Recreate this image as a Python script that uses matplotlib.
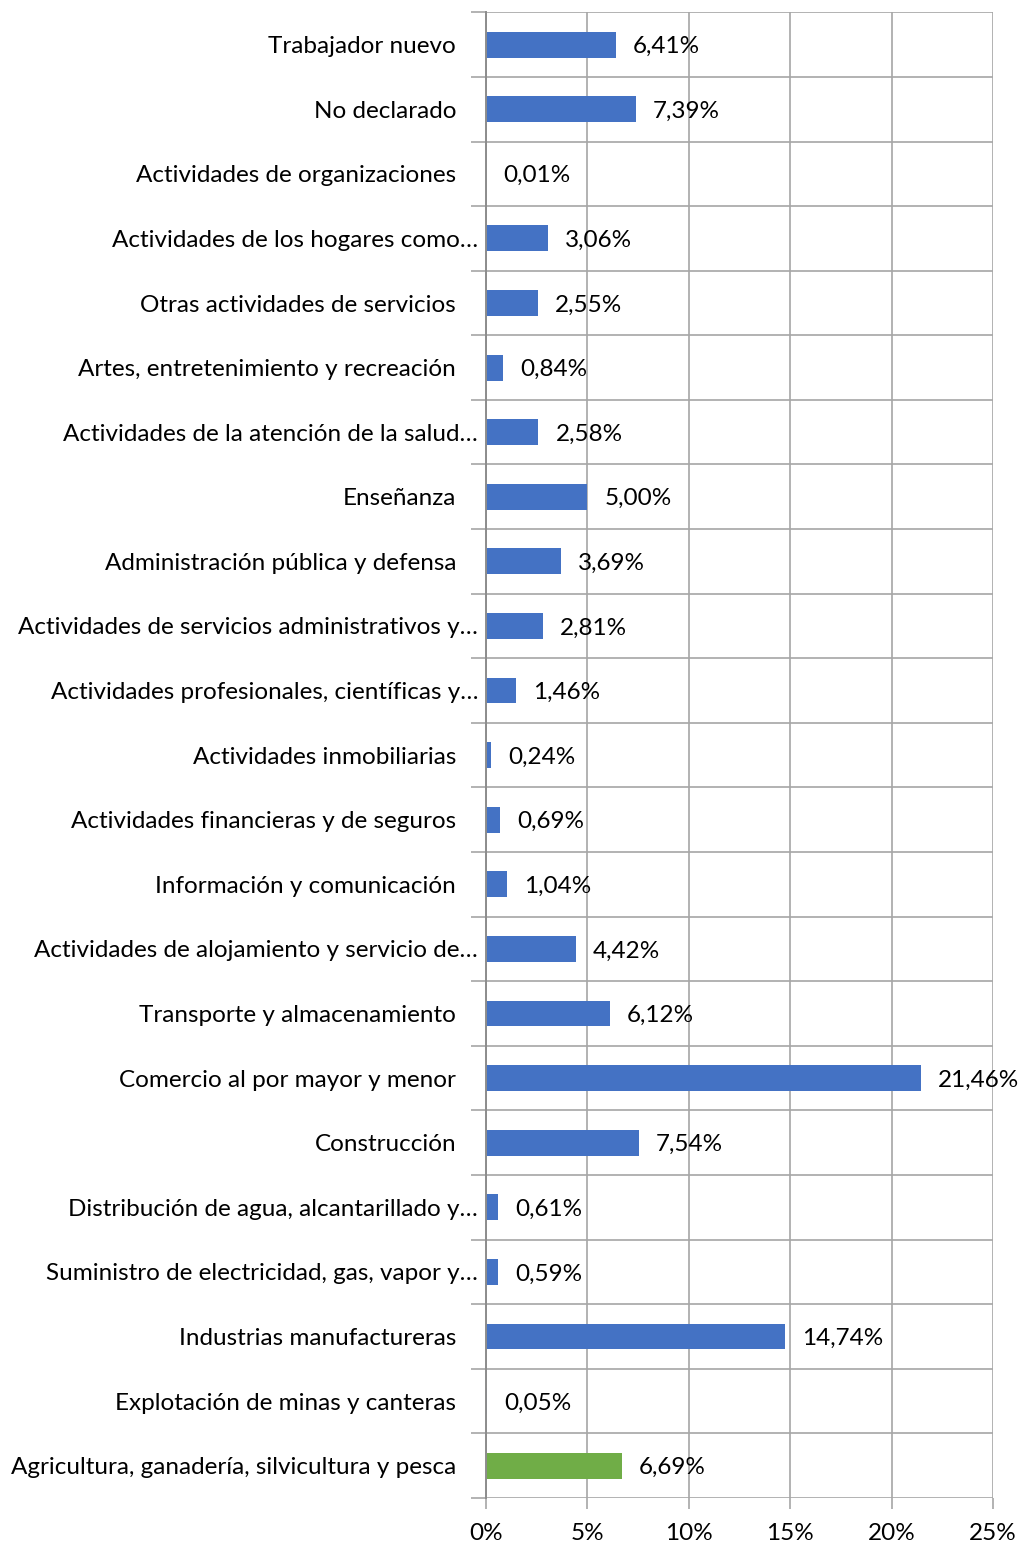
import matplotlib.pyplot as plt
from matplotlib.transforms import blended_transform_factory, offset_copy

plt.rcParams["font.family"] = ["Lato", "DejaVu Sans"]

# data (top to bottom, as shown)
categories = [
    "Trabajador nuevo",
    "No declarado",
    "Actividades de organizaciones",
    "Actividades de los hogares como…",
    "Otras actividades de servicios",
    "Artes, entretenimiento y recreación",
    "Actividades de la atención de la salud…",
    "Enseñanza",
    "Administración pública y defensa",
    "Actividades de servicios administrativos y…",
    "Actividades profesionales, científicas y…",
    "Actividades inmobiliarias",
    "Actividades financieras y de seguros",
    "Información y comunicación",
    "Actividades de alojamiento y servicio de…",
    "Transporte y almacenamiento",
    "Comercio al por mayor y menor",
    "Construcción",
    "Distribución de agua, alcantarillado y…",
    "Suministro de electricidad, gas, vapor y…",
    "Industrias manufactureras",
    "Explotación de minas y canteras",
    "Agricultura, ganadería, silvicultura y pesca",
]
shares = [6.41, 7.39, 0.01, 3.06, 2.55, 0.84, 2.58, 5.00, 3.69, 2.81, 1.46,
          0.24, 0.69, 1.04, 4.42, 6.12, 21.46, 7.54, 0.61, 0.59, 14.74, 0.05, 6.69]
highlight = "Agricultura, ganadería, silvicultura y pesca"
x_ticks = [0, 5, 10, 15, 20, 25]

BLUE = "#4472C4"
GREEN = "#70AD47"
GRID = "#A6A6A6"
FS = 17.5

fig = plt.figure(figsize=(10.19, 15.43), dpi=100)
ax = fig.add_axes([0.477, 0.0292, 0.4975, 0.9628])

n = len(categories)
ypos = list(range(n - 1, -1, -1))
colors = [GREEN if c == highlight else BLUE for c in categories]
ax.barh(ypos, shares, height=0.4, color=colors, zorder=3)

ax.set_xlim(0, 25)
ax.set_ylim(-0.5, n - 0.5)
ax.set_xticks(x_ticks)
ax.set_xticklabels([f"{t}%" for t in x_ticks], fontsize=FS)
ax.set_yticks([i - 0.5 for i in range(n + 1)])
ax.set_yticklabels([])
ax.tick_params(axis="y", length=11, color=GRID, width=1.2)
ax.tick_params(axis="x", length=8, color=GRID, width=1.2, pad=10)
ax.grid(True, color=GRID, linewidth=1.2, zorder=0)
for s in ["top", "right", "bottom"]:
    ax.spines[s].set_visible(False)
ax.spines["left"].set_color("#8C8C8C")
ax.spines["left"].set_linewidth(1.4)
ax.spines["left"].set_zorder(4)

trans = blended_transform_factory(ax.transAxes, ax.transData)
for y, label in zip(ypos, categories):
    gap = 8 if label.endswith("…") else 30
    t = offset_copy(trans, fig=fig, x=-gap, y=-2, units="dots")
    ax.text(0, y, label, transform=t, ha="right", va="center", fontsize=FS)

for y, v in zip(ypos, shares):
    t = offset_copy(ax.transData, fig=fig, x=17, y=-2, units="dots")
    ax.text(v, y, f"{v:.2f}%".replace(".", ","), transform=t,
            ha="left", va="center", fontsize=FS, zorder=5)

fig.savefig("out.png", dpi=100)
